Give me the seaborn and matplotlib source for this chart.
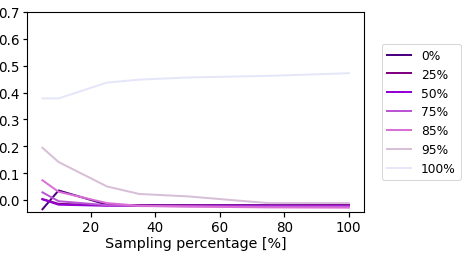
import numpy as np
import pandas as pd
import seaborn as sns
import matplotlib
matplotlib.use("Agg")
import matplotlib.pyplot as plt

# sampling percentages on the x axis
sampling = [5, 10, 25, 35, 50, 75, 100]

# one series per noise level
niveles = ['0%', '25%', '50%', '75%', '85%', '95%', '100%']
v0 = [-0.035, 0.035, -0.018, -0.020, -0.020, -0.020, -0.019]
v25 = [0.003, -0.015, -0.020, -0.021, -0.021, -0.021, -0.020]
v50 = [0.002, -0.018, -0.022, -0.022, -0.022, -0.022, -0.022]
v75 = [0.028, -0.005, -0.020, -0.023, -0.024, -0.025, -0.025]
v85 = [0.073, 0.030, -0.012, -0.022, -0.025, -0.028, -0.029]
v95 = [0.194, 0.141, 0.050, 0.022, 0.013, -0.012, -0.012]
v100 = [0.378, 0.378, 0.437, 0.448, 0.456, 0.462, 0.472]

colores = ['indigo', 'purple', 'darkviolet', 'mediumorchid', 'orchid', 'thistle', 'lavender']

series = [v0, v25, v50, v75, v85, v95, v100]
filas = []
for nivel, vals in zip(niveles, series):
    for s, v in zip(sampling, vals):
        filas.append({'Sampling': s, 'valor': v, 'nivel': nivel})
df = pd.DataFrame(filas)

fig = plt.figure(figsize=(6.5, 3.611), dpi=72)
ax = fig.add_axes([0.058, 0.181, 0.72, 0.769])
sns.lineplot(data=df, x='Sampling', y='valor', hue='nivel', hue_order=niveles,
             palette=colores, linewidth=2.0, ax=ax)
ax.set_ylim(-0.045, 0.7)
ax.set_yticks([0.0, 0.1, 0.2, 0.3, 0.4, 0.5, 0.6, 0.7])
ax.set_xticks([20, 40, 60, 80, 100])
ax.tick_params(labelsize=13.5, width=1.2, length=4.5)
for sp in ax.spines.values():
    sp.set_linewidth(1.1)
ax.set_xlabel('Sampling percentage [%]', fontsize=14.3, labelpad=2)
ax.set_ylabel('')
ax.legend(loc='center left', bbox_to_anchor=(1.053, 0.5), borderaxespad=0,
          title=None, fontsize=12.2, labelspacing=0.48)
fig.savefig('out.png', dpi=72)
